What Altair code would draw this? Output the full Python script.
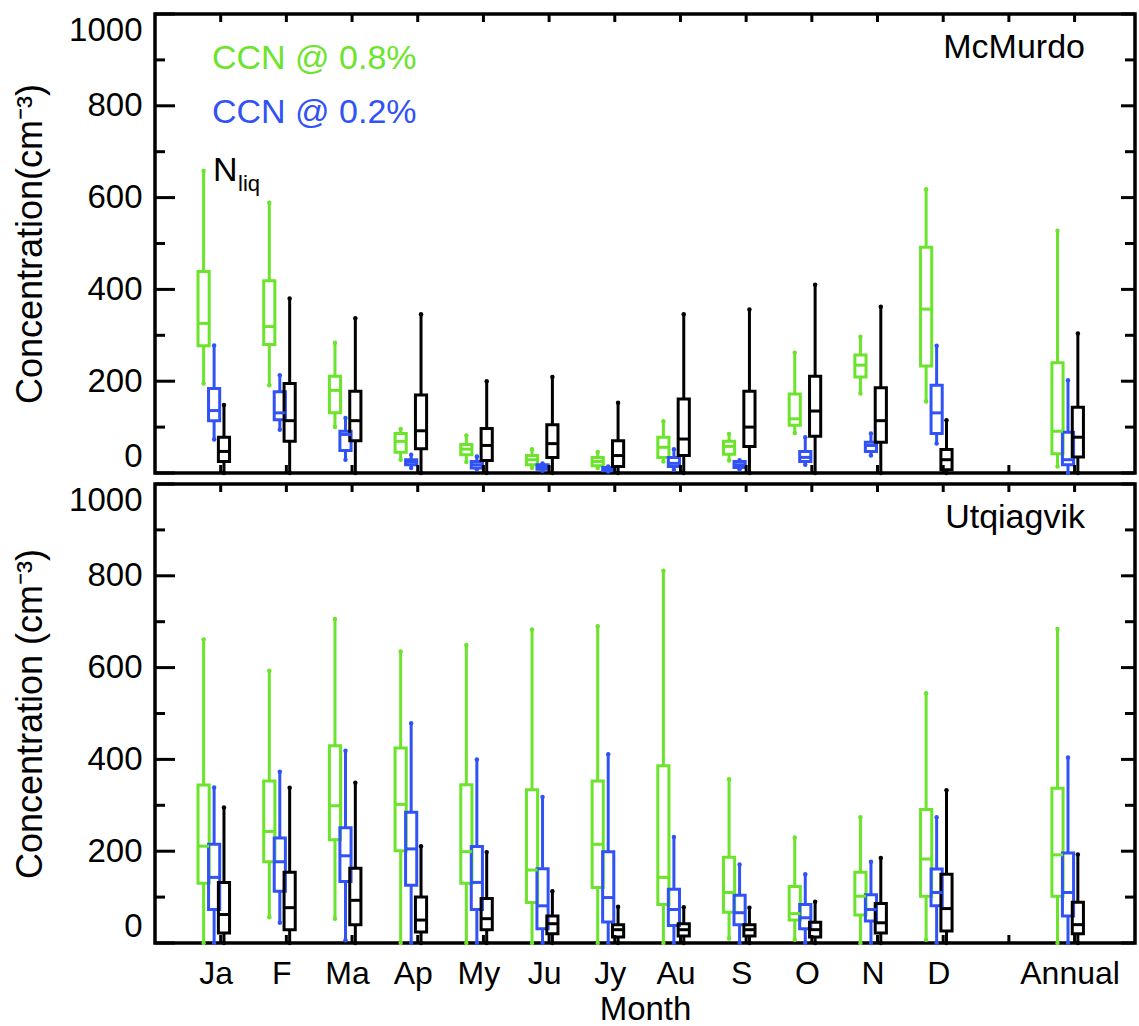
import altair as alt
import pandas as pd

# Category labels and their slots on the x axis (a gap is left before "Annual")
MONTHS = ["Ja", "F", "Ma", "Ap", "My", "Ju", "Jy", "Au", "S", "O", "N", "D", "Annual"]
POSITIONS = [1, 2, 3, 4, 5, 6, 7, 8, 9, 10, 11, 12, 14]

# Box statistics per category: (low whisker, Q1, median, Q3, high whisker), cm^-3
MCMURDO_CCN08 = [
    (195, 277, 326, 439, 658), (191, 280, 319, 419, 589), (100, 131, 180, 211, 284),
    (29, 45, 69, 86, 96), (24, 40, 52, 62, 82), (11, 18, 29, 38, 52),
    (11, 16, 25, 34, 46), (25, 34, 56, 78, 113), (27, 41, 58, 69, 85),
    (87, 104, 118, 172, 262), (173, 209, 235, 257, 297), (156, 233, 357, 492, 618),
    (14, 42, 91, 240, 528),
]
MCMURDO_CCN02 = [
    (73, 114, 136, 184, 278), (94, 116, 131, 177, 213), (29, 49, 84, 91, 120),
    (11, 18, 24, 29, 40), (8, 11, 18, 25, 36), (5, 8, 12, 18, 21),
    (3, 5, 8, 12, 14), (7, 14, 21, 34, 52), (8, 12, 18, 25, 28),
    (18, 25, 34, 47, 78), (38, 47, 60, 67, 86), (64, 86, 131, 191, 277),
    (0, 18, 29, 89, 202),
]
MCMURDO_NLIQ = [
    (0, 25, 47, 78, 148), (0, 69, 114, 195, 380), (0, 70, 114, 178, 337),
    (0, 53, 92, 170, 346), (0, 27, 60, 97, 200), (0, 34, 64, 105, 209),
    (0, 14, 38, 70, 153), (0, 38, 74, 161, 346), (0, 58, 100, 178, 356),
    (0, 80, 135, 211, 410), (0, 67, 114, 186, 362), (0, 7, 29, 51, 115),
    (0, 35, 78, 143, 304),
]
UTQIAGVIK_CCN08 = [
    (0, 130, 211, 344, 661), (56, 177, 243, 353, 593), (53, 225, 299, 430, 706),
    (0, 201, 302, 425, 635), (0, 130, 199, 345, 649), (0, 88, 159, 334, 683),
    (0, 121, 215, 353, 690), (0, 84, 143, 386, 811), (10, 67, 110, 187, 357),
    (7, 50, 64, 123, 230), (0, 61, 102, 154, 274), (7, 102, 183, 291, 544),
    (0, 102, 192, 337, 684),
]
UTQIAGVIK_CCN02 = [
    (0, 73, 143, 215, 339), (44, 113, 177, 229, 373), (6, 134, 190, 251, 419),
    (0, 126, 205, 285, 479), (0, 73, 132, 210, 400), (0, 31, 81, 162, 318),
    (0, 46, 99, 199, 411), (0, 38, 73, 117, 231), (0, 40, 66, 104, 171),
    (0, 31, 55, 84, 150), (0, 48, 73, 105, 177), (0, 81, 110, 161, 274),
    (0, 59, 110, 196, 404),
]
UTQIAGVIK_NLIQ = [
    (0, 22, 62, 132, 295), (0, 29, 77, 154, 338), (0, 40, 93, 163, 349),
    (0, 24, 50, 100, 211), (0, 29, 53, 97, 198), (0, 20, 42, 59, 113),
    (0, 13, 29, 40, 79), (0, 15, 29, 42, 78), (0, 15, 29, 40, 77),
    (0, 13, 29, 45, 90), (0, 22, 44, 86, 185), (0, 26, 75, 150, 333),
    (0, 20, 40, 89, 193),
]

SERIES = ["CCN @ 0.8%", "CCN @ 0.2%", "Nliq"]
COLORS = ["#6be42b", "#3152f5", "#000000"]
OFFSETS = [-0.26, -0.10, 0.05]   # shift of each series from the category slot
HALF_BOX = 0.085                 # half box width, x units

Y_MAJOR = [0, 200, 400, 600, 800, 1000]
Y_MINOR = [100, 300, 500, 700, 900]
X_TICKS = list(range(1, 15))

W, H = 980, 459
FONT = "Liberation Sans"
XS = alt.Scale(domain=[0, 14.92], nice=False, zero=False)
YS = alt.Scale(domain=[0, 1000], nice=False, zero=False)

LABEL_EXPR = ("{'1':'Ja','2':'F','3':'Ma','4':'Ap','5':'My','6':'Ju','7':'Jy',"
              "'8':'Au','9':'S','10':'O','11':'N','12':'D','14':'Annual'}[datum.value + '']")


def box_table(*series_stats):
    rows = []
    for name, color, off, stats in zip(SERIES, COLORS, OFFSETS, series_stats):
        for month, pos, (lo, q1, med, q3, hi) in zip(MONTHS, POSITIONS, stats):
            x = pos + off
            rows.append(dict(month=month, series=name, x=x, xl=x - HALF_BOX,
                             xr=x + HALF_BOX, lo=lo, q1=q1, med=med, q3=q3,
                             hi=hi, color=color))
    return pd.DataFrame(rows)


def text_layer(txt, x, y, size, color, align="left"):
    return alt.Chart(pd.DataFrame({"t": [txt]})).mark_text(
        align=align, baseline="alphabetic", font=FONT, fontSize=size, color=color
    ).encode(text="t:N", x=alt.value(x), y=alt.value(y))


def panel(df, site, ytitle, bottom):
    base = alt.Chart(df)
    stroke = alt.Stroke("color:N", scale=None)
    fill = alt.Fill("color:N", scale=None)

    if bottom:
        x_axis = alt.Axis(values=POSITIONS, ticks=False, domain=False, grid=False,
                          labelExpr=LABEL_EXPR, labelFlush=False, labelOffset=-5,
                          labelPadding=15, labelFontSize=32, labelFont=FONT,
                          labelColor="black", title="Month", titleFontSize=33,
                          titleFont=FONT, titleFontWeight="normal",
                          titleColor="black", titlePadding=4)
    else:
        x_axis = None
    y_axis = alt.Axis(values=Y_MAJOR, format="d", ticks=False, domain=False,
                      grid=False, labelFlush=True, labelPadding=13,
                      labelFontSize=33, labelFont=FONT, labelColor="black",
                      title=ytitle, titleFontSize=36, titleFont=FONT,
                      titleFontWeight="normal", titleColor="black",
                      titlePadding=19)

    def X(field):
        return alt.X(field, scale=XS, axis=x_axis)

    def Y(field):
        return alt.Y(field, scale=YS, axis=y_axis)

    lower = base.mark_rule(strokeWidth=3).encode(
        x=X("x:Q"), y=Y("lo:Q"), y2="q1:Q", stroke=stroke)
    upper = base.mark_rule(strokeWidth=3).encode(
        x=X("x:Q"), y=Y("q3:Q"), y2="hi:Q", stroke=stroke)
    caps_hi = base.mark_circle(size=20, opacity=1).encode(
        x=X("x:Q"), y=Y("hi:Q"), fill=fill)
    caps_lo = base.mark_circle(size=20, opacity=1).encode(
        x=X("x:Q"), y=Y("lo:Q"), fill=fill)
    boxes = base.mark_rect(fillOpacity=0, strokeWidth=3).encode(
        x=X("xl:Q"), x2="xr:Q", y=Y("q1:Q"), y2="q3:Q", stroke=stroke)
    medians = base.mark_rule(strokeWidth=3).encode(
        x=X("xl:Q"), x2="xr:Q", y=Y("med:Q"), stroke=stroke)

    # inward-pointing ticks on all four sides of the frame
    ymaj = alt.Chart(pd.DataFrame({"v": Y_MAJOR}))
    ymin = alt.Chart(pd.DataFrame({"v": Y_MINOR}))
    xt = alt.Chart(pd.DataFrame({"p": X_TICKS}))
    tick = dict(strokeWidth=3, color="black")
    left_major = ymaj.mark_rule(**tick).encode(
        y=Y("v:Q"), x=alt.value(0), x2=alt.value(20))
    left_minor = ymin.mark_rule(**tick).encode(
        y=Y("v:Q"), x=alt.value(0), x2=alt.value(10))
    right_major = ymaj.mark_rule(**tick).encode(
        y=Y("v:Q"), x=alt.value(W), x2=alt.value(W - 14))
    right_minor = ymin.mark_rule(**tick).encode(
        y=Y("v:Q"), x=alt.value(W), x2=alt.value(W - 10))
    top_ticks = xt.mark_rule(**tick).encode(
        x=X("p:Q"), y=alt.value(0), y2=alt.value(8))
    bottom_ticks = xt.mark_rule(**tick).encode(
        x=X("p:Q"), y=alt.value(H), y2=alt.value(H - 8))

    layers = [lower, upper, boxes, medians, caps_hi, caps_lo,
              left_major, left_minor, right_major, right_minor,
              top_ticks, bottom_ticks,
              text_layer(site, 930, 44, 34, "black", align="right")]
    if not bottom:
        layers += [
            text_layer(SERIES[0], 57, 55, 34, COLORS[0]),
            text_layer(SERIES[1], 57, 109, 34, COLORS[1]),
            text_layer("N", 58, 167, 34, "black"),
            text_layer("liq", 83, 177, 22, "black"),
        ]
    return alt.layer(*layers).properties(width=W, height=H)


top = panel(box_table(MCMURDO_CCN08, MCMURDO_CCN02, MCMURDO_NLIQ),
            "McMurdo", "Concentration(cm\u207b\u00b3)", bottom=False)
bot = panel(box_table(UTQIAGVIK_CCN08, UTQIAGVIK_CCN02, UTQIAGVIK_NLIQ),
            "Utqiagvik", "Concentration (cm\u207b\u00b3)", bottom=True)

chart = alt.vconcat(top, bot, spacing=3).properties(
    padding={"top": 10, "left": 10, "right": 0, "bottom": 0},
    background="white",
).configure_view(stroke="black", strokeWidth=3.5)

chart.save("out.html", embed_options={"renderer": "svg", "actions": False})
